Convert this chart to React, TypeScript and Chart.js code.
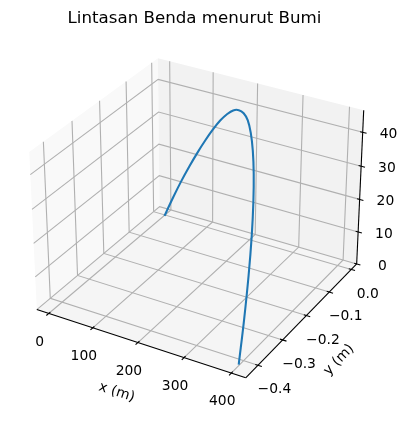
import { useEffect, useRef } from "react";
import { Chart, registerables } from "chart.js";

Chart.register(...registerables);

// Trajectory values
const pathX = [0, 20, 40, 60, 80, 100, 120, 140, 160, 180, 200, 220, 240, 260, 280, 300, 320, 340, 360, 380, 397];
const pathY = [0, -0.00005, -0.0004, -0.0014, -0.0034, -0.0066, -0.0114, -0.0181, -0.027, -0.0385, -0.0528, -0.0703, -0.0912, -0.116, -0.1449, -0.1782, -0.2163, -0.2594, -0.308, -0.3622, -0.413];
const pathZ = [0, 6.4, 12.4, 17.9, 23, 27.7, 32, 35.8, 38.9, 41.4, 43, 43.8, 43.7, 42.2, 39.5, 35.6, 30.6, 24.3, 16.9, 8.3, 0];

const xTicks = [0, 100, 200, 300, 400];
const yTicks = [0, -0.1, -0.2, -0.3, -0.4];
const zTicks = [0, 10, 20, 30, 40];
const xTickLabels = ["0", "100", "200", "300", "400"];
const yTickLabels = ["0.0", "\u22120.1", "\u22120.2", "\u22120.3", "\u22120.4"];
const zTickLabels = ["0", "10", "20", "30", "40"];
const titleText = "Lintasan Benda menurut Bumi";
const xAxisTitle = "x (m)";
const yAxisTitle = "y (m)";

// Axis limits of the box
const xLim = [-27.4, 430.1];
const yLim = [-0.448, 0.025];
const zLim = [0, 46.4];

// Camera: elevation 30, azimuth -60, distance 10
const box = [1.1905, 1.1905, 0.8929];
const U = [0.86603, 0.5, 0];
const V = [-0.25, 0.43301, 0.86603];
const W = [0.43301, -0.75, 0.5];
const scalePx = 2010;
const originX = 199.7;
const originY = 210.3;

type Pt = { x: number; y: number };

function project(x: number, y: number, z: number): Pt {
  const p = [
    ((x - xLim[0]) / (xLim[1] - xLim[0]) - 0.5) * box[0],
    ((y - yLim[0]) / (yLim[1] - yLim[0]) - 0.5) * box[1],
    ((z - zLim[0]) / (zLim[1] - zLim[0]) - 0.5) * box[2],
  ];
  const dot = (a: number[]) => a[0] * p[0] + a[1] * p[1] + a[2] * p[2];
  const d = 10 - dot(W);
  return { x: originX + (scalePx * dot(U)) / d, y: originY - (scalePx * dot(V)) / d };
}

const GRID = "#b0b0b0";
const INK = "#000000";
const [x0, x1] = xLim;
const [y0, y1] = yLim;
const [z0, z1] = zLim;

function pane(points: Pt[], color: string) {
  return {
    data: [...points, points[0]],
    showLine: true,
    fill: "shape" as const,
    backgroundColor: color,
    borderColor: color,
    borderWidth: 0,
    pointRadius: 0,
    tension: 0,
  };
}

function stroke(points: Pt[], color: string, width: number) {
  return {
    data: points,
    showLine: true,
    fill: false,
    borderColor: color,
    borderWidth: width,
    pointRadius: 0,
    tension: 0,
  };
}

function buildDatasets() {
  const sets: any[] = [
    pane([project(x0, y0, z0), project(x0, y1, z0), project(x0, y1, z1), project(x0, y0, z1)], "#f9f9f9"),
    pane([project(x0, y1, z0), project(x1, y1, z0), project(x1, y1, z1), project(x0, y1, z1)], "#f2f2f2"),
    pane([project(x0, y0, z0), project(x1, y0, z0), project(x1, y1, z0), project(x0, y1, z0)], "#f5f5f5"),
  ];
  xTicks.forEach((v) => sets.push(stroke([project(v, y0, z0), project(v, y1, z0), project(v, y1, z1)], GRID, 1.1)));
  yTicks.forEach((v) => sets.push(stroke([project(x1, v, z0), project(x0, v, z0), project(x0, v, z1)], GRID, 1.1)));
  zTicks.forEach((v) => sets.push(stroke([project(x0, y0, v), project(x0, y1, v), project(x1, y1, v)], GRID, 1.1)));

  sets.push(stroke([project(x0, y0, z0), project(x1, y0, z0)], INK, 1.1));
  sets.push(stroke([project(x1, y0, z0), project(x1, y1, z0)], INK, 1.1));
  sets.push(stroke([project(x1, y1, z0), project(x1, y1, z1)], INK, 1.1));

  const dy = y1 - y0;
  const dx = x1 - x0;
  xTicks.forEach((v) => sets.push(stroke([project(v, y0 + 0.012 * dy, z0), project(v, y0 - 0.018 * dy, z0)], INK, 1.1)));
  yTicks.forEach((v) => sets.push(stroke([project(x1 - 0.012 * dx, v, z0), project(x1 + 0.018 * dx, v, z0)], INK, 1.1)));
  zTicks.forEach((v) => sets.push(stroke([project(x1 - 0.012 * dx, y1, v), project(x1 + 0.018 * dx, y1, v)], INK, 1.1)));

  sets.push({
    data: pathX.map((v, i) => project(v, pathY[i], pathZ[i])),
    showLine: true,
    fill: false,
    borderColor: "#1f77b4",
    borderWidth: 2.08,
    borderCapStyle: "square",
    pointRadius: 0,
    tension: 0.4,
  });
  // Chart.js paints the first dataset last, so the panes go to the end of the list
  return sets.reverse();
}

const FONT = '"DejaVu Sans"';

const textPlugin = {
  id: "axisText",
  afterDraw(chart: any) {
    const ctx = chart.ctx as CanvasRenderingContext2D;
    ctx.save();
    ctx.fillStyle = "#000";
    ctx.textAlign = "center";
    ctx.textBaseline = "middle";
    ctx.font = `16.67px ${FONT}`;
    ctx.fillText(titleText, 194.5, 18.5);
    ctx.font = `13.89px ${FONT}`;
    xTicks.forEach((v, i) => {
      const p = project(v, y0, z0);
      ctx.fillText(xTickLabels[i], p.x - 9, p.y + 28.5);
    });
    yTicks.forEach((v, i) => {
      const p = project(x1, v, z0);
      ctx.fillText(yTickLabels[i], p.x + 16.5, p.y + 24.5);
    });
    zTicks.forEach((v, i) => {
      const p = project(x1, y1, v);
      ctx.fillText(zTickLabels[i], p.x + 25.8, p.y + 2);
    });
    ctx.save();
    ctx.translate(116.7, 392.3);
    ctx.rotate((18 * Math.PI) / 180);
    ctx.fillText(xAxisTitle, 0, 0);
    ctx.restore();
    ctx.save();
    ctx.translate(339, 360);
    ctx.rotate((-46 * Math.PI) / 180);
    ctx.fillText(yAxisTitle, 0, 0);
    ctx.restore();
    ctx.restore();
  },
};

export default function App() {
  const ref = useRef<HTMLCanvasElement>(null);
  useEffect(() => {
    document.body.style.margin = "0";
    const chart = new Chart(ref.current!, {
      type: "scatter",
      data: { datasets: buildDatasets() },
      options: {
        animation: false,
        responsive: false,
        devicePixelRatio: 1,
        layout: { padding: 0 },
        clip: false as any,
        plugins: { legend: { display: false }, title: { display: false }, tooltip: { enabled: false } },
        scales: {
          x: { type: "linear", min: 0, max: 406, display: false },
          y: { type: "linear", min: 0, max: 421, reverse: true, display: false },
        },
      },
      plugins: [textPlugin],
    });
    return () => chart.destroy();
  }, []);
  return <canvas ref={ref} width={406} height={421} style={{ display: "block" }} />;
}
